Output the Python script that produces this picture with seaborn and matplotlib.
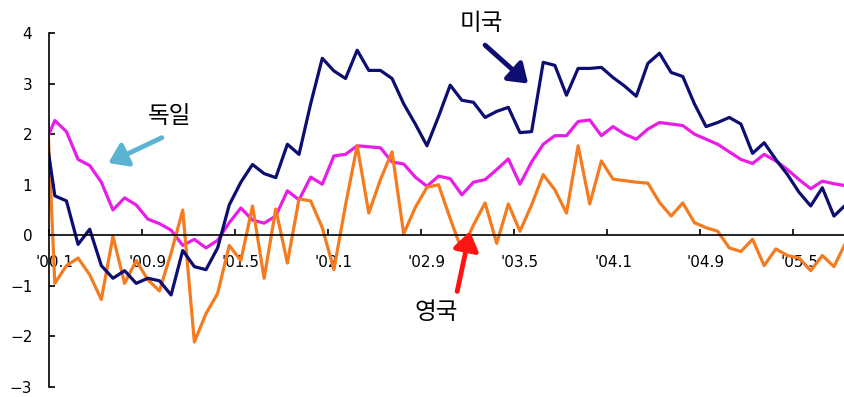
import numpy as np
import pandas as pd
import matplotlib
matplotlib.use("Agg")
import matplotlib.pyplot as plt
import seaborn as sns

sns.set_theme(style="white")
plt.rcParams['font.family'] = ['Noto Sans CJK KR', 'DejaVu Sans']
plt.rcParams['axes.unicode_minus'] = True

# Monthly series, Dec 1999 .. Sep 2005 (first entry = Dec 1999)
us = [2.36, 0.78, 0.68, -0.18, 0.12, -0.60, -0.85, -0.70, -0.95, -0.85, -0.90,
      -1.18, -0.30, -0.62, -0.68, -0.25, 0.60, 1.05, 1.40, 1.22, 1.14, 1.80,
      1.60, 2.60, 3.50, 3.25, 3.10, 3.66, 3.26, 3.26, 3.10, 2.60, 2.20, 1.77,
      2.35, 2.97, 2.67, 2.63, 2.33, 2.45, 2.53, 2.03, 2.05, 3.42, 3.36, 2.77,
      3.30, 3.30, 3.32, 3.12, 2.95, 2.75, 3.40, 3.60, 3.22, 3.14, 2.60, 2.15,
      2.23, 2.33, 2.20, 1.62, 1.83, 1.50, 1.20, 0.85, 0.58, 0.94, 0.38, 0.60]
germany = [1.73, 2.27, 2.05, 1.50, 1.38, 1.05, 0.50, 0.74, 0.60, 0.32, 0.23,
           0.10, -0.20, -0.08, -0.25, -0.10, 0.25, 0.54, 0.30, 0.24, 0.38, 0.88,
           0.70, 1.15, 1.01, 1.57, 1.60, 1.77, 1.75, 1.73, 1.45, 1.41, 1.15, 0.97,
           1.17, 1.12, 0.80, 1.05, 1.10, 1.30, 1.51, 1.01, 1.45, 1.80, 1.97, 1.97,
           2.25, 2.28, 1.97, 2.15, 2.00, 1.90, 2.10, 2.23, 2.20, 2.17, 2.00, 1.90,
           1.80, 1.65, 1.50, 1.42, 1.60, 1.47, 1.30, 1.10, 0.92, 1.07, 1.02, 0.98]
uk = [4.30, -0.95, -0.60, -0.45, -0.78, -1.27, -0.02, -0.95, -0.50, -0.88, -1.10,
      -0.35, 0.50, -2.11, -1.55, -1.15, -0.20, -0.50, 0.58, -0.85, 0.52, -0.55,
      0.72, 0.68, 0.15, -0.68, 0.60, 1.77, 0.44, 1.10, 1.65, 0.03, 0.55, 0.95,
      1.00, 0.33, -0.30, 0.20, 0.64, -0.16, 0.62, 0.08, 0.60, 1.20, 0.90, 0.44,
      1.77, 0.62, 1.47, 1.11, 1.08, 1.05, 1.03, 0.65, 0.38, 0.64, 0.25, 0.15,
      0.08, -0.25, -0.32, -0.08, -0.60, -0.27, -0.40, -0.45, -0.70, -0.40, -0.62,
      -0.15]

tick_labels = ["'00.1", "'00.9", "'01.5", "'02.1", "'02.9", "'03.5",
               "'04.1", "'04.9", "'05.5"]
label_step = 8

month = np.arange(len(us)) - 1   # 0 = Jan 2000

c_us, c_de, c_uk = "#0d0d72", "#e81ee8", "#f57b1f"

fig = plt.figure(figsize=(8.45, 3.97), dpi=100)
ax = fig.add_axes([49 / 845, 10 / 397, 1 - 49 / 845, 354 / 397])

sns.lineplot(x=month, y=germany, color=c_de, lw=2.3, ax=ax)
sns.lineplot(x=month, y=uk, color=c_uk, lw=2.3, ax=ax)
sns.lineplot(x=month, y=us, color=c_us, lw=2.3, ax=ax)

ax.set_xlim(-0.5, 67.95)
ax.set_ylim(-3, 4)

for s in ("top", "right"):
    ax.spines[s].set_visible(False)
ax.spines["bottom"].set_position(("data", 0))
for s in ("left", "bottom"):
    ax.spines[s].set_color("black")
    ax.spines[s].set_linewidth(1.2)

ax.set_yticks(range(-3, 5))
ax.tick_params(axis="y", direction="in", length=4, width=1.2, color="black",
               labelsize=11, labelcolor="black", pad=12, left=True)

major = np.arange(-0.5, len(us) - 1, label_step)
minor = np.arange(0, len(us) - 1, label_step)[:len(tick_labels)]
ax.set_xticks(major)
ax.set_xticklabels([""] * len(major))
ax.set_xticks(minor, minor=True)
ax.set_xticklabels(tick_labels, minor=True)
ax.tick_params(axis="x", which="major", direction="in", length=4, width=1.2,
               color="black", bottom=True)
ax.tick_params(axis="x", which="minor", length=0, labelsize=11,
               labelcolor="black", pad=14, bottom=True)
for lab in ax.get_xticklabels(minor=True) + ax.get_yticklabels():
    lab.set_fontfamily("DejaVu Sans")
ax.set_xlabel("")
ax.set_ylabel("")
ax.grid(False)

def pointer(text, text_xy, tail, tip, color):
    ax.annotate("", xy=tip, xytext=tail, annotation_clip=False,
                arrowprops=dict(arrowstyle="-|>,head_length=0.55,head_width=0.38",
                                color=color, lw=3.5, mutation_scale=20,
                                shrinkA=0, shrinkB=0))
    ax.text(*text_xy, text, ha="center", va="center", fontsize=17,
            color="black", clip_on=False)

pointer("미국", (36.7, 4.19), (37.0, 3.76), (40.7, 3.0), c_us)
pointer("독일", (9.9, 2.35), (9.2, 1.93), (4.6, 1.43), "#5ab4d2")
pointer("영국", (32.8, -1.53), (34.6, -1.11), (35.7, 0.08), "#ff1414")

fig.savefig("out.png", dpi=100)
